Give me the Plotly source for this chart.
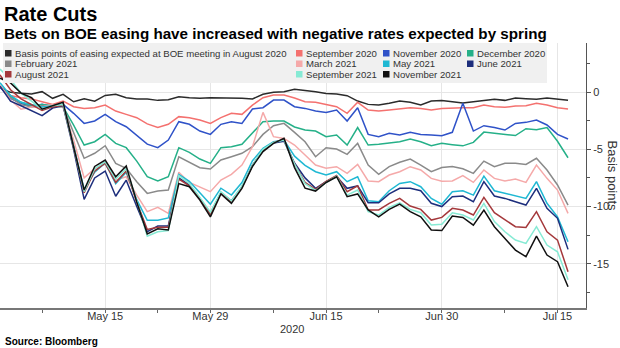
import pandas as pd
import plotly.graph_objects as go

# Trading days covered by the chart
dates = pd.bdate_range("2020-05-01", "2020-07-16")

# Basis points of easing priced for each BOE meeting
aug20 = [0.35, -0.03, -0.10, -0.17, 0.03, -0.55, -0.20, -0.85, -0.60, -0.80, -0.30,
         -0.20, -0.50, -0.60, -0.62, -0.73, -0.67, -0.41, -0.50, -0.55, -0.50, -0.50,
         -0.55, -0.55, -0.60, -0.20, -0.03, 0.03, 0.25, 0.17, 0.03, -0.12, -0.17,
         -0.32, -0.79, -1.08, -1.14, -0.99, -0.79, -0.90, -1.14, -0.79, -0.75, -0.85,
         -0.96, -0.85, -0.76, -0.64, -0.73, -0.52, -0.58, -0.64, -0.52, -0.64, -0.73]
sep20 = [0.40, -0.30, -0.50, -0.60, -0.85, -1.08, -0.79, -1.28, -1.43, -1.37, -1.14,
         -1.66, -1.95, -2.24, -2.78, -3.10, -2.82, -2.15, -2.24, -2.45, -2.74, -2.24,
         -1.86, -1.95, -1.14, -0.50, -0.26, -0.26, -0.52, -0.85, -0.90, -1.08, -1.28,
         -1.86, -0.90, -1.57, -1.66, -1.57, -1.48, -1.37, -1.43, -1.57, -1.43, -1.37,
         -1.37, -1.37, -1.14, -1.28, -1.34, -1.22, -1.19, -0.99, -1.14, -1.37, -1.48]
nov20 = [0.45, -0.55, -0.99, -1.28, -1.08, -1.28, -1.08, -1.86, -2.74, -2.53, -1.95,
         -2.59, -3.03, -3.76, -4.55, -4.86, -4.19, -2.59, -2.82, -3.41, -3.70, -2.82,
         -2.59, -2.74, -1.48, -1.37, -0.70, -0.70, -1.28, -1.43, -1.66, -1.78, -1.57,
         -2.53, -1.37, -3.70, -3.90, -3.60, -3.76, -3.52, -3.70, -3.76, -3.81, -3.52,
         -0.99, -3.41, -2.94, -3.10, -3.32, -2.74, -2.65, -2.45, -2.88, -3.70, -4.10]
dec20 = [0.50, -0.40, -0.90, -1.20, -1.10, -1.20, -1.30, -2.90, -4.63, -4.34, -3.70,
         -4.48, -4.86, -6.03, -7.40, -7.77, -7.40, -4.86, -5.27, -5.85, -6.23, -4.86,
         -4.77, -4.57, -3.60, -2.59, -2.53, -2.53, -3.05, -3.32, -3.41, -3.90, -3.76,
         -4.63, -3.10, -4.63, -4.57, -4.48, -4.34, -4.10, -4.34, -4.69, -4.48, -4.60,
         -4.70, -4.40, -3.50, -3.60, -3.70, -3.80, -3.20, -3.30, -3.10, -4.30, -5.74]
feb21 = [0.55, -0.50, -1.10, -1.30, -1.20, -1.15, -1.30, -3.50, -5.79, -5.35, -4.69,
         -6.23, -6.66, -7.83, -8.85, -8.65, -8.56, -5.65, -6.14, -6.61, -6.72, -5.94,
         -5.65, -5.35, -4.77, -3.70, -2.94, -2.74, -3.52, -4.34, -5.65, -4.86, -4.98,
         -5.44, -4.48, -6.38, -7.19, -6.52, -6.14, -5.85, -6.38, -6.96, -6.60, -6.50,
         -6.70, -7.10, -6.03, -6.52, -6.23, -6.23, -6.32, -5.79, -6.81, -8.12, -9.87]
mar21 = [0.60, -0.70, -1.50, -1.30, -1.30, -1.10, -1.30, -4.20, -7.50, -6.70, -6.30,
         -7.70, -7.40, -9.00, -10.45, -10.07, -10.60, -7.00, -7.90, -8.30, -8.70, -7.69,
         -7.19, -6.38, -4.78, -1.78, -3.90, -4.05, -4.63, -5.50, -6.38, -6.66, -6.52,
         -7.10, -6.32, -7.77, -7.83, -7.25, -6.96, -6.52, -6.81, -7.54, -7.80, -7.77,
         -7.30, -7.89, -6.81, -7.54, -7.77, -7.60, -7.89, -6.38, -7.54, -8.56, -10.60]
may21 = [0.80, -0.30, -0.90, -1.10, -1.30, -1.20, -1.10, -4.70, -8.50, -7.00, -6.20,
         -8.00, -7.00, -9.40, -11.20, -11.20, -11.00, -7.20, -7.80, -8.80, -9.80, -8.40,
         -9.00, -7.90, -6.00, -4.92, -4.34, -4.20, -5.60, -6.40, -6.96, -7.25, -6.96,
         -7.83, -7.40, -9.49, -9.58, -8.62, -7.98, -7.83, -8.27, -9.29, -9.80, -8.70,
         -8.62, -9.00, -7.34, -8.62, -8.85, -9.08, -9.29, -7.83, -9.72, -10.90, -13.07]
jun21 = [0.50, -0.80, -1.20, -1.60, -2.07, -1.40, -1.20, -5.00, -9.37, -7.50, -6.90,
         -9.10, -7.70, -10.00, -12.20, -11.70, -11.70, -7.50, -8.10, -9.30, -10.60, -8.80,
         -9.50, -8.30, -6.40, -5.10, -4.45, -4.30, -6.20, -7.50, -8.41, -7.83, -7.40,
         -8.41, -8.20, -9.67, -9.67, -8.90, -8.41, -8.41, -8.62, -9.72, -10.00, -9.14,
         -9.08, -9.58, -7.83, -9.08, -9.29, -9.58, -9.87, -8.41, -10.16, -11.03, -13.74]
aug21 = [1.50, 0.20, -0.60, -1.10, -1.60, -1.30, -1.15, -4.80, -8.80, -6.90, -6.20,
         -7.90, -6.90, -9.60, -12.00, -11.80, -11.80, -7.60, -8.20, -9.30, -10.70, -8.80,
         -9.60, -8.30, -6.40, -5.10, -4.40, -4.15, -6.30, -7.90, -8.50, -7.80, -7.30,
         -8.70, -8.20, -10.30, -10.30, -9.72, -9.29, -9.96, -10.25, -11.18, -10.95, -10.16,
         -10.30, -10.74, -9.20, -10.54, -11.12, -11.76, -11.82, -10.45, -12.20, -12.93, -15.69]
sep21 = [2.00, 1.10, -0.10, -0.80, -1.50, -1.20, -1.10, -4.80, -8.70, -6.70, -6.10,
         -7.60, -6.70, -9.50, -12.60, -12.20, -12.10, -7.30, -8.00, -9.20, -10.50, -8.70,
         -9.50, -8.20, -6.40, -5.00, -4.40, -4.20, -6.30, -8.00, -8.60, -7.90, -7.35,
         -9.00, -8.56, -10.45, -10.74, -10.07, -9.67, -10.25, -10.54, -11.62, -11.55, -10.54,
         -10.74, -11.18, -9.72, -11.32, -12.20, -12.93, -13.22, -11.76, -13.36, -13.95, -16.40]
nov21 = [1.20, 0.80, -0.10, -0.50, -1.50, -1.20, -0.90, -4.80, -8.56, -6.50, -5.94,
         -7.40, -6.46, -9.60, -12.40, -11.95, -12.05, -8.00, -8.27, -9.43, -10.90, -8.90,
         -9.72, -8.41, -6.50, -5.20, -4.48, -4.05, -6.60, -8.40, -8.65, -7.90, -7.40,
         -9.14, -8.90, -10.30, -10.90, -10.25, -9.78, -10.45, -10.90, -12.05, -12.10, -10.83,
         -10.95, -11.62, -10.31, -11.76, -12.78, -13.80, -14.38, -12.58, -14.24, -14.82, -17.00]

series_names = ["Basis points of easing expected at BOE meeting in August 2020",
                "September 2020", "November 2020", "December 2020",
                "February 2021", "March 2021", "May 2021", "June 2021",
                "August 2021", "September 2021", "November 2021"]
series_values = [aug20, sep20, nov20, dec20, feb21, mar21, may21, jun21,
                 aug21, sep21, nov21]
series_colors = ["#2b2b2b", "#f4716f", "#2f52c8", "#25b088", "#8a8a8a", "#f5a9a9",
                 "#1fb8d3", "#1d2e7c", "#a4383b", "#86ead4", "#111111"]

x_tick_vals = ["2020-05-15", "2020-05-29", "2020-06-15", "2020-06-30", "2020-07-15"]
x_tick_text = ["May 15", "May 29", "Jun 15", "Jun 30", "Jul 15"]
x_minor_vals = ["2020-05-07", "2020-05-22", "2020-06-08", "2020-06-22", "2020-07-08"]
y_tick_vals = [0, -5, -10, -15]
y_tick_text = ["0", "-5", "-10", "-15"]
y_minor_vals = [2.5, -2.5, -7.5, -12.5, -17.5]

W, H = 620, 348
ML, MR, MT, MB = 0, 34, 43, 40
PW, PH = W - ML - MR, H - MT - MB
FONT = "Liberation Sans, Arial, sans-serif"


def px(x):
    return (x - ML) / PW


def py(y):
    return (H - MB - y) / PH


fig = go.Figure()
for name, vals, col in zip(series_names, series_values, series_colors):
    fig.add_trace(go.Scatter(x=dates, y=vals, name=name, mode="lines",
                             line=dict(color=col, width=1.5), showlegend=False))

shapes = []
annotations = []

# Legend panel
shapes.append(dict(type="rect", xref="paper", yref="paper", layer="above",
                   x0=px(3), x1=px(547), y0=py(83), y1=py(43),
                   fillcolor="#f0f0f0", line=dict(width=0)))
legend_cols = [13, 304, 391, 475]
legend_rows = [53, 63.5, 74]
legend_layout = [(0, 0), (0, 1), (0, 2), (0, 3),
                 (1, 0), (1, 1), (1, 2), (1, 3),
                 (2, 0), (2, 1), (2, 2)]
for (r, c), name, col in zip(legend_layout, series_names, series_colors):
    tx, ty = legend_cols[c], legend_rows[r]
    shapes.append(dict(type="rect", xref="paper", yref="paper", layer="above",
                       x0=px(tx - 8), x1=px(tx - 1.5), y0=py(ty + 3.5), y1=py(ty - 3),
                       fillcolor=col, line=dict(width=0)))
    annotations.append(dict(xref="paper", yref="paper", x=px(tx), y=py(ty),
                            xanchor="left", yanchor="middle", showarrow=False,
                            text=name, font=dict(family=FONT, size=9.6, color="#333333")))

annotations += [
    dict(xref="paper", yref="paper", x=px(2), y=py(14), xanchor="left", yanchor="middle",
         showarrow=False, text="<b>Rate Cuts</b>",
         font=dict(family=FONT, size=20, color="#000000")),
    dict(xref="paper", yref="paper", x=px(2), y=py(33), xanchor="left", yanchor="middle",
         showarrow=False,
         text="<b>Bets on BOE easing have increased with negative rates expected by spring</b>",
         font=dict(family=FONT, size=15.2, color="#000000")),
    dict(xref="paper", yref="paper", x=px(3), y=py(341), xanchor="left", yanchor="middle",
         showarrow=False, text="<b>Source: Bloomberg</b>",
         font=dict(family=FONT, size=10, color="#000000")),
    dict(xref="paper", yref="paper", x=px(292), y=py(329), xanchor="center", yanchor="middle",
         showarrow=False, text="2020", font=dict(family=FONT, size=11, color="#333333")),
    dict(xref="paper", yref="paper", x=px(612), y=py(175.5), xanchor="center", yanchor="middle",
         showarrow=False, text="Basis points", textangle=90,
         font=dict(family=FONT, size=13, color="#333333")),
]

fig.update_layout(
    width=W, height=H, margin=dict(l=ML, r=MR, t=MT, b=MB, pad=0),
    paper_bgcolor="#ffffff", plot_bgcolor="#ffffff",
    font=dict(family=FONT, size=11, color="#333333"),
    shapes=shapes, annotations=annotations,
    xaxis=dict(type="date", range=["2020-05-01", "2020-07-17 17:00"],
               rangebreaks=[dict(bounds=["sat", "mon"])],
               tickmode="array", tickvals=x_tick_vals, ticktext=x_tick_text,
               ticks="outside", ticklen=3, tickcolor="#666666",
               ticklabelstandoff=-6,
               showgrid=True, gridcolor="#e6e6e6", gridwidth=1,
               showline=True, linecolor="#777777", linewidth=1.5,
               zeroline=False, tickfont=dict(size=11, color="#333333"),
               minor=dict(tickmode="array", tickvals=x_minor_vals, ticks="outside",
                          ticklen=3, tickcolor="#666666", showgrid=False)),
    yaxis=dict(side="right", range=[-18.86, 4.28],
               tickmode="array", tickvals=y_tick_vals, ticktext=y_tick_text,
               ticks="outside", ticklen=4, tickcolor="#555555",
               showgrid=True, gridcolor="#e6e6e6", gridwidth=1,
               showline=True, linecolor="#555555", linewidth=1,
               zeroline=False, tickfont=dict(size=11, color="#333333"),
               minor=dict(tickmode="array", tickvals=y_minor_vals, ticks="outside",
                          ticklen=3, tickcolor="#555555", showgrid=False)),
)

fig.write_html("out.html")
